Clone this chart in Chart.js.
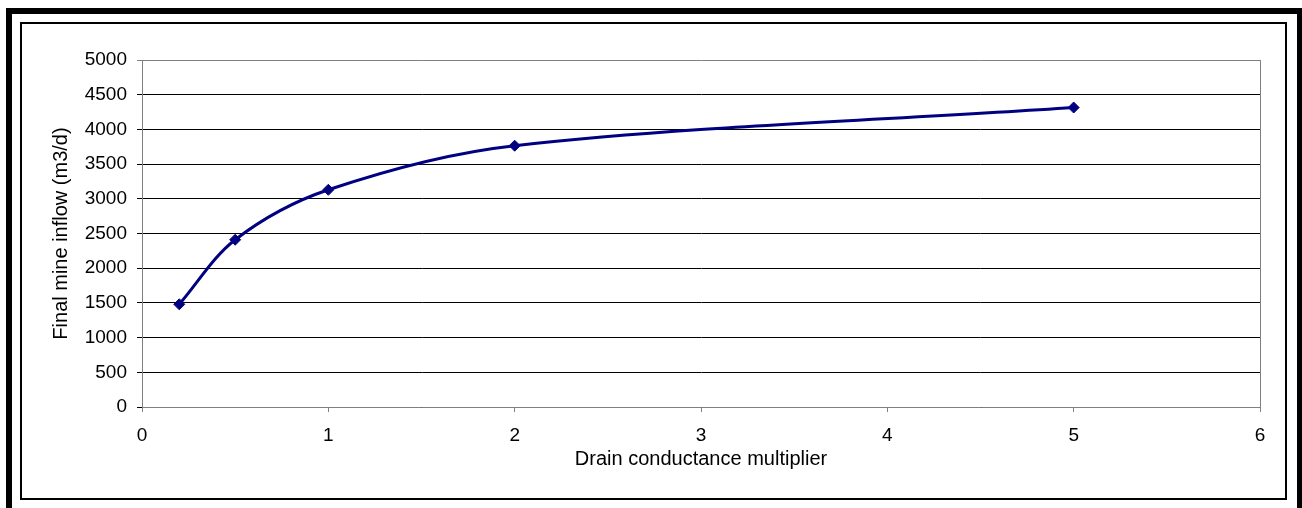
<!DOCTYPE html>
<html>
<head>
<meta charset="utf-8">
<script src="https://cdn.jsdelivr.net/npm/chart.js@4/dist/chart.umd.min.js"></script>
<style>
  body { margin: 0; background: #fff; overflow: hidden; }
  #outer { position: absolute; left: 6px; top: 8px; width: 1297px; height: 520px;
           box-sizing: border-box; border: 6px solid #000; border-bottom: none; }
  #inner { position: absolute; left: 20px; top: 22px; width: 1267px; height: 478px;
           box-sizing: border-box; border: 2px solid #000; }
  #wrap { position: absolute; left: 0; top: 0; width: 1302px; height: 508px; }
</style>
</head>
<body>
<div id="outer"></div>
<div id="inner"></div>
<div id="wrap"><canvas id="mineChart" width="1302" height="508"></canvas></div>
<script>
// values
const multipliers = [0.2, 0.5, 1, 2, 5];
const inflows     = [1480, 2410, 3130, 3765, 4315];
const xTicks      = [0, 1, 2, 3, 4, 5, 6];
const yTicks      = [0, 500, 1000, 1500, 2000, 2500, 3000, 3500, 4000, 4500, 5000];

const TICK_FONT  = { family: "'Liberation Sans', Arial, sans-serif", size: 19 };
const TITLE_FONT = { family: "'Liberation Sans', Arial, sans-serif", size: 20 };

// grey right-hand edge of the plot area
const plotEdge = {
  id: "plotEdge",
  afterDraw(chart) {
    const a = chart.chartArea, c = chart.ctx;
    c.save();
    c.strokeStyle = "#808080";
    c.lineWidth = 1;
    c.beginPath();
    c.moveTo(Math.round(a.right) + 0.5, a.top);
    c.lineTo(Math.round(a.right) + 0.5, a.bottom);
    c.stroke();
    c.restore();
  }
};

const ctx = document.getElementById("mineChart").getContext("2d");
new Chart(ctx, {
  type: "line",
  data: {
    datasets: [{
      data: multipliers.map((x, i) => ({ x, y: inflows[i] })),
      borderColor: "#000080",
      backgroundColor: "#000080",
      borderWidth: 3,
      tension: 0.33,
      pointStyle: "rectRot",
      pointRadius: 5.5,
      pointBorderWidth: 1,
      pointBorderColor: "#000080",
      pointBackgroundColor: "#000080"
    }]
  },
  options: {
    responsive: false,
    animation: false,
    events: [],
    layout: { padding: { top: 60, right: 42, left: 0, bottom: 0 } },
    plugins: { legend: { display: false }, tooltip: { enabled: false } },
    scales: {
      x: {
        type: "linear",
        min: 0, max: 6,
        afterBuildTicks: s => { s.ticks = xTicks.map(v => ({ value: v })); },
        afterFit: s => { s.height = 101; },
        grid: { drawOnChartArea: false, drawTicks: true, tickLength: 5, color: "#808080" },
        border: { color: "#808080", width: 1 },
        ticks: { color: "#000", font: TICK_FONT, padding: 12, maxRotation: 0,
                 callback: v => String(v) },
        title: { display: true, text: "Drain conductance multiplier", color: "#000",
                 font: TITLE_FONT, padding: { top: 0, bottom: 37 } }
      },
      y: {
        min: 0, max: 5000,
        afterBuildTicks: s => { s.ticks = yTicks.map(v => ({ value: v })); },
        afterFit: s => { s.width = 142; },
        grid: {
          drawTicks: true, tickLength: 5,
          color: c => (c.tick && c.tick.value === 5000) ? "#808080" : "#000"
        },
        border: { color: "#808080", width: 1 },
        ticks: { color: "#000", font: TICK_FONT, padding: 10, callback: v => String(v) },
        title: { display: true, text: "Final mine inflow (m3/d)", color: "#000",
                 font: TITLE_FONT, padding: { top: 49, bottom: 0 } }
      }
    }
  },
  plugins: [plotEdge]
});
</script>
</body>
</html>
